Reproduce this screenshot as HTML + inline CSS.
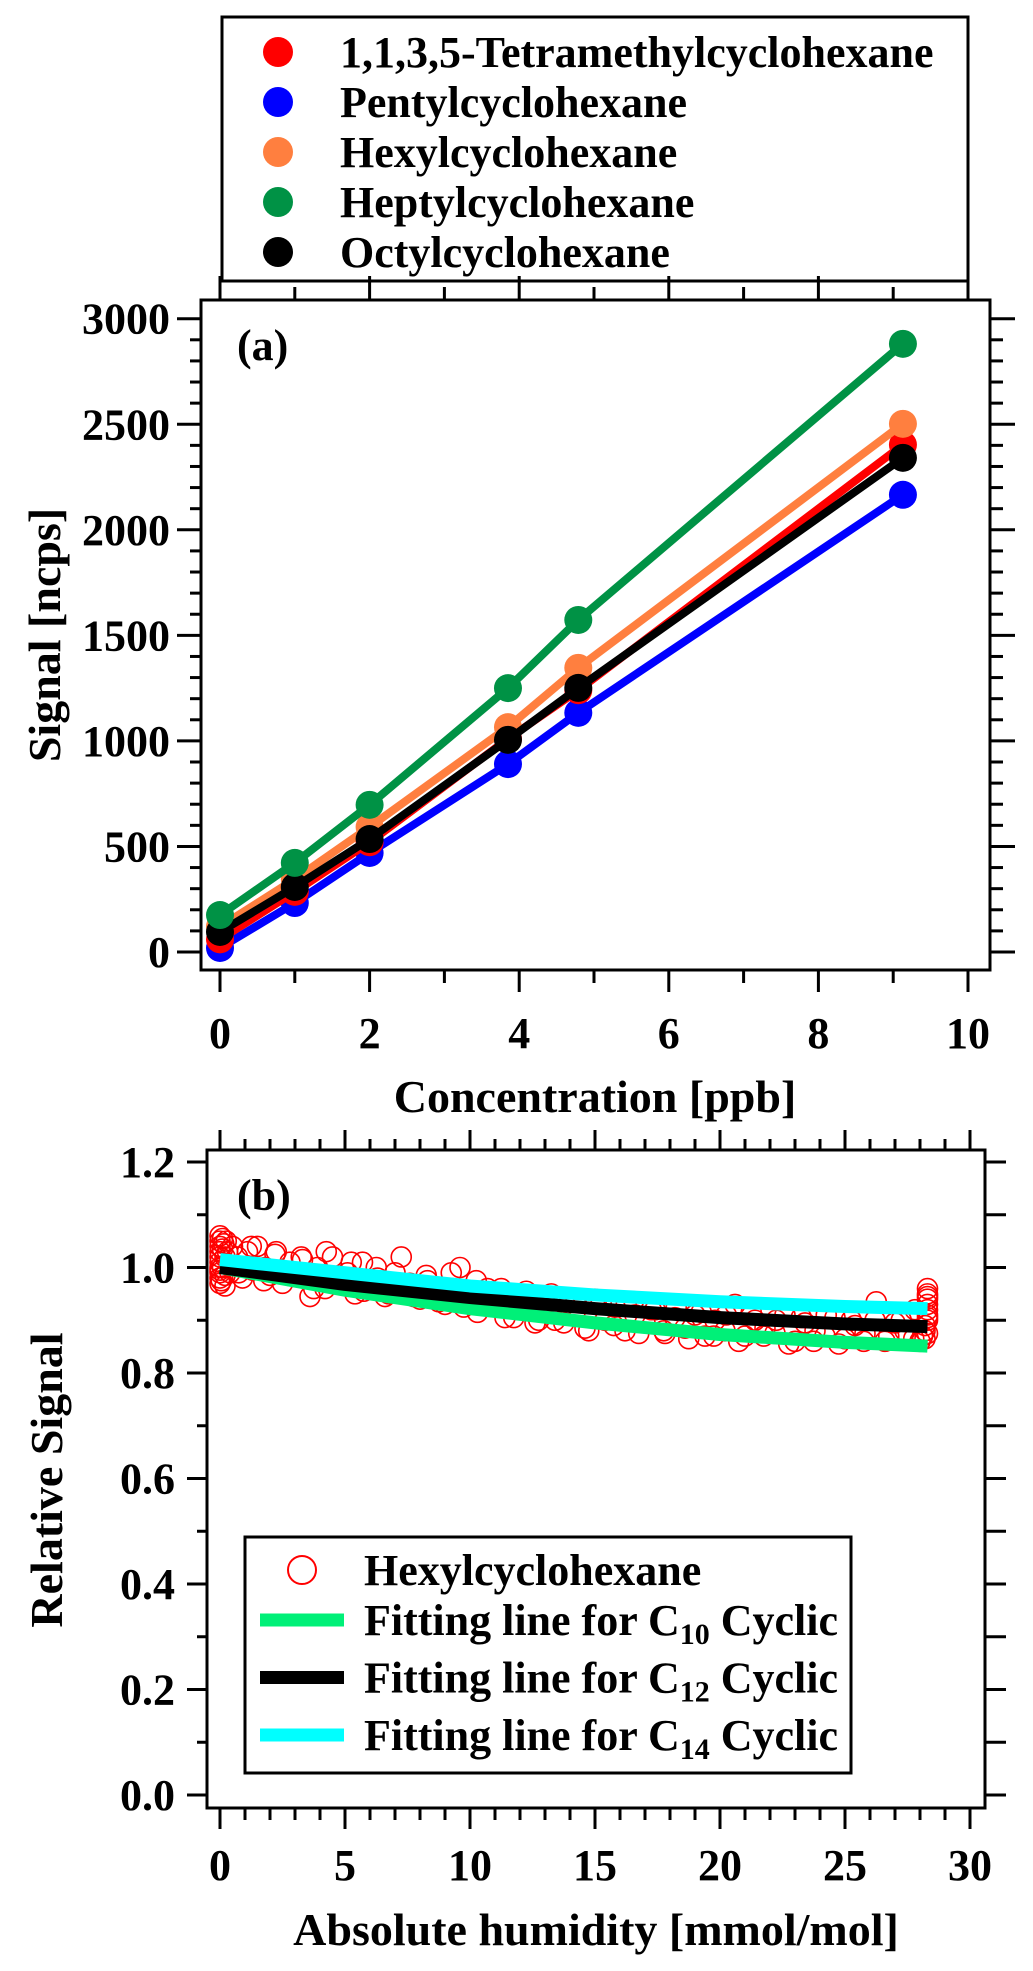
<!DOCTYPE html>
<html><head><meta charset="utf-8">
<style>
html,body{margin:0;padding:0;background:#fff;}
svg{display:block;font-family:"Liberation Serif",serif;font-weight:bold;}
</style></head>
<body>
<svg id="fig" width="1033" height="1971" viewBox="0 0 1033 1971" xmlns="http://www.w3.org/2000/svg">
<rect width="1033" height="1971" fill="#fff"/>
<g id="panelA"></g>
<g id="panelB"></g>
</svg>
<script>
// ---- Panel (a) data ----
const concX = [0, 1, 2, 3.85, 4.79, 9.13];
const seriesNames = ["1,1,3,5-Tetramethylcyclohexane","Pentylcyclohexane","Hexylcyclohexane","Heptylcyclohexane","Octylcyclohexane"];
const seriesColors = ["#ff0000","#0000ff","#ff7f3f","#009245","#000000"];
const redVals = [60, 285, 520, 1010, 1240, 2403];
const blueVals = [19, 232, 469, 890, 1133, 2166];
const orangeVals = [120, 345, 592, 1065, 1346, 2502];
const greenVals = [175, 422, 697, 1250, 1573, 2881];
const blackVals = [95, 308, 535, 1005, 1251, 2341];
const yTicksA = [0, 500, 1000, 1500, 2000, 2500, 3000];
const xTicksA = [0, 2, 4, 6, 8, 10];

// ---- Panel (b) data ----
const fitX = [0, 5, 10, 15, 20, 25, 28.3];
const fitC10 = [1.0, 0.957, 0.922, 0.895, 0.873, 0.858, 0.851];
const fitC12 = [1.0, 0.968, 0.943, 0.922, 0.905, 0.893, 0.888];
const fitC14 = [1.015, 0.99, 0.965, 0.948, 0.935, 0.926, 0.922];
const scatX = [0,0,0,0,0,0,0,0,0,0,0.05,0.1,0.1,0.15,0.2,0.2,0.3,0.4,0.5,0.7,0.9,1.1,1.3,1.5,1.8,2.0,2.2,2.5,2.8,3.0,3.3,3.6,3.9,4.2,4.5,4.8,5.1,5.4,5.7,6.0,6.3,6.6,7.0,7.3,7.6,8.0,8.3,8.6,9.0,9.3,9.6,10.0,10.3,10.7,11.0,11.4,11.8,12.2,12.6,13.0,13.4,13.8,14.2,14.6,15.0,15.4,15.8,16.2,16.6,17.0,17.4,17.8,18.2,18.6,19.0,19.4,19.8,20.2,20.6,21.0,21.4,21.8,22.2,22.6,23.0,23.4,23.8,24.2,24.6,25.0,25.4,25.8,26.2,26.6,27.0,27.4,27.8,28.0,28.1,28.2,28.2,28.3,28.3,28.3,28.3,28.3,28.3,28.3,28.3];
const scatY = [0.97,0.98,0.99,1.0,1.01,1.02,1.03,1.04,1.05,1.06,0.975,1.035,1.0,1.045,0.985,1.02,1.03,0.99,1.04,1.02,0.98,1.03,0.995,1.04,1.0,0.985,1.025,0.97,1.01,0.99,1.015,0.945,1.0,0.96,1.02,0.97,0.99,0.95,1.01,0.96,0.98,0.945,0.99,0.955,0.97,0.94,0.975,0.95,0.93,0.96,1.0,0.94,0.915,0.96,0.93,0.905,0.95,0.92,0.895,0.945,0.9,0.93,0.915,0.885,0.94,0.9,0.925,0.88,0.91,0.895,0.92,0.875,0.905,0.885,0.91,0.87,0.9,0.88,0.93,0.87,0.9,0.885,0.875,0.91,0.86,0.895,0.88,0.87,0.905,0.865,0.89,0.875,0.9,0.86,0.895,0.88,0.92,0.86,0.87,0.88,0.89,0.9,0.91,0.92,0.93,0.94,0.95,0.96,0.905];
const scat2X = [0.25,0.75,1.25,1.75,2.25,2.75,3.25,3.75,4.25,4.75,5.25,5.75,6.25,6.75,7.25,7.75,8.25,8.75,9.25,9.75,10.25,10.75,11.25,11.75,12.25,12.75,13.25,13.75,14.25,14.75,15.25,15.75,16.25,16.75,17.25,17.75,18.25,18.75,19.25,19.75,20.25,20.75,21.25,21.75,22.25,22.75,23.25,23.75,24.25,24.75,25.25,25.75,26.25,26.75,27.25,27.75,0,0.1,0.2,28.2,28.3,28.3];
const scat2Y = [1.05,0.99,1.04,0.975,1.03,0.985,1.02,0.96,1.03,0.975,1.01,0.955,1.0,0.95,1.02,0.945,0.985,0.935,0.99,0.925,0.975,0.93,0.96,0.905,0.955,0.9,0.95,0.895,0.94,0.88,0.935,0.89,0.93,0.875,0.92,0.88,0.925,0.865,0.915,0.87,0.91,0.86,0.915,0.87,0.9,0.855,0.905,0.86,0.91,0.855,0.9,0.86,0.935,0.87,0.9,0.865,0.995,1.055,0.965,0.865,0.875,0.945];
const yTicksB = [0, 0.2, 0.4, 0.6, 0.8, 1.0, 1.2];
const xTicksB = [0, 5, 10, 15, 20, 25, 30];

const NS = "http://www.w3.org/2000/svg";
function mk(parent, tag, attrs) {
  const e = document.createElementNS(NS, tag);
  for (const k in attrs) e.setAttribute(k, attrs[k]);
  parent.appendChild(e);
  return e;
}

// ===== Panel (a) =====
const A = document.getElementById("panelA");
const aL = 201, aR = 990, aT = 300, aB = 970;
const xA = v => 220 + v * 74.8;
const yA = v => 952 - v * 0.2111;

const legA = mk(A, "g", {});


mk(legA, "rect", {x: 222, y: 17, width: 746, height: 264, fill: "#fff", stroke: "#000", "stroke-width": 3});
[0, 1, 2, 3, 4].forEach((si, i) => {
  const g = mk(legA, "g", {});
  
  
  mk(g, "circle", {cx: 278, cy: 52 + i * 50, r: 15, fill: seriesColors[si]});
  const t = mk(g, "text", {x: 340, y: 67 + i * 50, "font-size": 44});
  t.textContent = seriesNames[si];
});

const frA = mk(A, "rect", {x: aL, y: aT, width: aR - aL, height: aB - aT, fill: "none", stroke: "#000", "stroke-width": 3});



for (let v = 0; v <= 3200; v += 100) {
  const y = yA(v);
  if (y < aT - 1) break;
  const major = v % 500 === 0;
  mk(A, "line", {x1: aL, x2: major ? 177 : 190, y1: y, y2: y, stroke: "#000", "stroke-width": 3});
  mk(A, "line", {x1: aR, x2: major ? 1015 : 1003, y1: y, y2: y, stroke: "#000", "stroke-width": 3});
}
yTicksA.forEach(v => {
  const t = mk(A, "text", {x: 170, y: yA(v) + 15, "font-size": 44, "text-anchor": "end"});
  
  
  t.textContent = v;
});
for (let v = 0; v <= 10; v += 1) {
  const x = xA(v);
  const major = v % 2 === 0;
  mk(A, "line", {x1: x, x2: x, y1: aB, y2: aB + (major ? 22 : 13), stroke: "#000", "stroke-width": 3});
  mk(A, "line", {x1: x, x2: x, y1: aT, y2: aT - (major ? 24 : 13), stroke: "#000", "stroke-width": 3});
}
xTicksA.forEach(v => {
  const t = mk(A, "text", {x: xA(v), y: 1048, "font-size": 44, "text-anchor": "middle"});
  
  
  t.textContent = v;
});
const xtA = mk(A, "text", {x: 595, y: 1112, "font-size": 46, "text-anchor": "middle"});


xtA.textContent = "Concentration [ppb]";
const ytA = mk(A, "text", {x: 0, y: 0, "font-size": 46, "text-anchor": "middle", transform: "translate(60,635) rotate(-90)"});


ytA.textContent = "Signal [ncps]";
const labA = mk(A, "text", {x: 237, y: 360, "font-size": 44});


labA.textContent = "(a)";

const seriesVals = [redVals, blueVals, orangeVals, greenVals, blackVals];
[1, 0, 2, 4, 3].forEach(si => {
  const vals = seriesVals[si];
  const g = mk(A, "g", {});
  
  
  const pts = concX.map((x, i) => xA(x) + "," + yA(vals[i])).join(" ");
  mk(g, "polyline", {points: pts, fill: "none", stroke: seriesColors[si], "stroke-width": 8});
  concX.forEach((x, i) => {
    const c = mk(g, "circle", {cx: xA(x), cy: yA(vals[i]), r: 14, fill: seriesColors[si]});
    
    
  });
});

// ===== Panel (b) =====
const B = document.getElementById("panelB");
const bL = 207, bR = 985, bT = 1150, bB = 1808;
const xB = v => 220 + v * 25;
const yB = v => 1795 - v * 527.5;

const frB = mk(B, "rect", {x: bL, y: bT, width: bR - bL, height: bB - bT, fill: "none", stroke: "#000", "stroke-width": 3});


for (let i = 0; i <= 12; i++) {
  const v = i / 10, y = yB(v);
  const major = i % 2 === 0;
  mk(B, "line", {x1: bL, x2: major ? 187 : 197, y1: y, y2: y, stroke: "#000", "stroke-width": 3});
  mk(B, "line", {x1: bR, x2: 1006, y1: y, y2: y, stroke: "#000", "stroke-width": 3});
}
yTicksB.forEach(v => {
  const t = mk(B, "text", {x: 175, y: yB(v) + 15, "font-size": 44, "text-anchor": "end"});
  
  
  t.textContent = v.toFixed(1);
});
for (let v = 0; v <= 30; v += 1) {
  const x = xB(v);
  const major = v % 5 === 0;
  mk(B, "line", {x1: x, x2: x, y1: bB, y2: bB + (major ? 21 : 12), stroke: "#000", "stroke-width": 3});
  mk(B, "line", {x1: x, x2: x, y1: bT, y2: bT - (major ? 20 : 11), stroke: "#000", "stroke-width": 3});
}
xTicksB.forEach(v => {
  const t = mk(B, "text", {x: xB(v), y: 1880, "font-size": 44, "text-anchor": "middle"});
  
  
  t.textContent = v;
});
const xtB = mk(B, "text", {x: 596, y: 1945, "font-size": 46, "text-anchor": "middle"});


xtB.textContent = "Absolute humidity [mmol/mol]";
const ytB = mk(B, "text", {x: 0, y: 0, "font-size": 46, "text-anchor": "middle", transform: "translate(62,1480) rotate(-90)"});


ytB.textContent = "Relative Signal";
const labB = mk(B, "text", {x: 237, y: 1210, "font-size": 44});


labB.textContent = "(b)";

const scG = mk(B, "g", {});


function drawScatter(xs, ys) {
  const n = Math.min(xs.length, ys.length);
  for (let i = 0; i < n; i++) {
    const c = mk(scG, "circle", {cx: xB(xs[i]), cy: yB(ys[i]), r: 10, fill: "none", stroke: "#ff0000", "stroke-width": 1.6});
    
    
  }
}
drawScatter(scatX, scatY);
drawScatter(scat2X, scat2Y);

function drawFit(vals, color, name) {
  const p = mk(B, "polyline", {points: fitX.map((x, i) => xB(x) + "," + yB(vals[i])).join(" "), fill: "none", stroke: color, "stroke-width": 13, "stroke-linejoin": "round"});
  
  
}
drawFit(fitC10, "#00f078", "fit-line-c10");
drawFit(fitC12, "#000000", "fit-line-c12");
drawFit(fitC14, "#00ffff", "fit-line-c14");

const legB = mk(B, "g", {});


mk(legB, "rect", {x: 245, y: 1537, width: 606, height: 236, fill: "#fff", stroke: "#000", "stroke-width": 3});
mk(legB, "circle", {cx: 302, cy: 1570, r: 14, fill: "none", stroke: "#ff0000", "stroke-width": 2});
const lt0 = mk(legB, "text", {x: 364, y: 1585, "font-size": 44});


lt0.textContent = "Hexylcyclohexane";
const legFits = [["#00f078", "10"], ["#000000", "12"], ["#00ffff", "14"]];
legFits.forEach((f, i) => {
  const y = 1620 + i * 57.5;
  mk(legB, "line", {x1: 260, x2: 344, y1: y, y2: y, stroke: f[0], "stroke-width": 13});
  const t = mk(legB, "text", {x: 364, y: y + 15, "font-size": 44});
  
  
  t.appendChild(document.createTextNode("Fitting line for C"));
  const s = document.createElementNS(NS, "tspan");
  s.setAttribute("font-size", "30");
  s.setAttribute("dy", "9");
  s.textContent = f[1];
  t.appendChild(s);
  const s2 = document.createElementNS(NS, "tspan");
  s2.setAttribute("dy", "-9");
  s2.textContent = " Cyclic";
  t.appendChild(s2);
});
</script>
</body></html>
